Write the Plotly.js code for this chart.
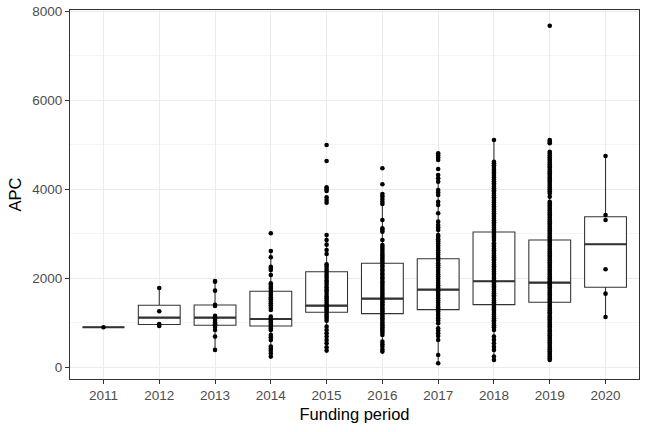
<!DOCTYPE html>
<html>
<head>
<meta charset="utf-8">
<script src="https://cdn.plot.ly/plotly-3.0.1.min.js"></script>
<style>html,body{margin:0;padding:0;background:#fff;}#chart{width:648px;height:432px;}</style>
</head>
<body>
<div id="chart"></div>
<script>
// Funding periods
var years = [2011, 2012, 2013, 2014, 2015, 2016, 2017, 2018, 2019, 2020];
var yearLabels = ["2011", "2012", "2013", "2014", "2015", "2016", "2017", "2018", "2019", "2020"];

// Box statistics (APC)
var q1Vals     = [900, 962, 944, 928, 1236, 1204, 1294, 1407, 1461, 1798];
var medianVals = [900, 1115, 1115, 1085, 1384, 1541, 1744, 1932, 1901, 2764];
var q3Vals     = [900, 1393, 1400, 1708, 2148, 2337, 2440, 3040, 2860, 3384];
var lowerWhisk = [900, 928, 389, 238, 373, 351, 90, 164, 164, 1130];
var upperWhisk = [900, 1782, 1939, 2613, 2973, 3894, 4171, 5107, 4845, 4748];

// Individual APC values per funding period
var pts2011 = [900];
var pts2012 = [1782, 1258, 973, 928];
var pts2013 = [1939, 1921, 1721, 1377, 1402, 1153, 1120, 1098, 1062, 1010, 968, 944, 905, 838, 688, 389];
var pts2014 = [3011, 2613, 2472, 2260, 2231, 2186, 2074, 1887, 1846, 1802, 1764, 1713, 1669, 1622, 1571, 1530, 1488, 1440, 1392, 1337, 1288, 1137, 1102, 1076, 1041, 1003, 962, 911, 868, 838, 726, 671, 613, 463, 421, 372, 309, 238];
var pts2015 = [4995, 4636, 4045, 4000, 3961, 3820, 3759, 3699, 2973, 2860, 2755, 2636, 2546, 2314, 2262, 2207, 2158, 2101, 2049, 2003, 1948, 1902, 1851, 1797, 1748, 1705, 1652, 1598, 1553, 1497, 1451, 1403, 1372, 1338, 1297, 1261, 1222, 1178, 1139, 1096, 1047, 912, 838, 764, 688, 613, 539, 449, 373];
var pts2016 = [4471, 4112, 3894, 3843, 3781, 3722, 3669, 3310, 3123, 3085, 3047, 2860, 2748, 2702, 2655, 2611, 2558, 2512, 2469, 2421, 2377, 2337, 2288, 2251, 2197, 2163, 2108, 2072, 2019, 1983, 1928, 1893, 1847, 1802, 1758, 1711, 1668, 1629, 1583, 1541, 1502, 1459, 1418, 1381, 1337, 1302, 1258, 1221, 1179, 1142, 1098, 1061, 1018, 979, 942, 898, 861, 818, 779, 726, 575, 518, 462, 398, 351];
var pts2017 = [4808, 4761, 4709, 4658, 4456, 4321, 4248, 4171, 3984, 3928, 3872, 3721, 3647, 3460, 3272, 3198, 3141, 3085, 2973, 2931, 2878, 2832, 2779, 2731, 2682, 2628, 2581, 2533, 2478, 2440, 2392, 2338, 2291, 2242, 2188, 2141, 2089, 2043, 1992, 1938, 1891, 1843, 1788, 1744, 1702, 1648, 1603, 1551, 1498, 1452, 1401, 1349, 1302, 1251, 1198, 1152, 1101, 1048, 989, 876, 818, 762, 701, 613, 276, 90];
var pts2018 = [5107, 4620, 4583, 4538, 4502, 4457, 4421, 4378, 4342, 4298, 4263, 4219, 4181, 4138, 4102, 4057, 4021, 3978, 3942, 3901, 3858, 3822, 3779, 3741, 3702, 3658, 3621, 3579, 3542, 3498, 3461, 3419, 3382, 3338, 3301, 3259, 3222, 3178, 3141, 3098, 3062, 3019, 2981, 2938, 2902, 2860, 2786, 2748, 2712, 2668, 2631, 2589, 2552, 2508, 2471, 2429, 2392, 2348, 2311, 2268, 2232, 2189, 2151, 2108, 2072, 2028, 1991, 1948, 1932, 1901, 1858, 1822, 1779, 1741, 1698, 1662, 1619, 1582, 1538, 1502, 1459, 1421, 1378, 1342, 1299, 1262, 1218, 1181, 1138, 1102, 1058, 1021, 978, 942, 899, 838, 688, 618, 541, 458, 389, 238, 164];
var pts2019 = [7676, 5107, 5071, 5033, 4845, 4802, 4758, 4721, 4679, 4642, 4598, 4561, 4519, 4482, 4438, 4401, 4359, 4322, 4278, 4241, 4199, 4162, 4118, 4081, 4039, 4002, 3958, 3910, 3833, 3721, 3682, 3638, 3601, 3559, 3522, 3478, 3441, 3399, 3362, 3318, 3281, 3239, 3202, 3158, 3121, 3079, 3042, 2998, 2961, 2919, 2882, 2838, 2801, 2759, 2722, 2678, 2641, 2599, 2562, 2518, 2481, 2439, 2402, 2358, 2321, 2279, 2242, 2198, 2161, 2119, 2082, 2038, 2001, 1959, 1922, 1901, 1878, 1841, 1799, 1762, 1718, 1681, 1639, 1602, 1558, 1521, 1479, 1442, 1398, 1361, 1319, 1282, 1238, 1201, 1159, 1122, 1078, 1041, 999, 962, 918, 881, 839, 802, 758, 721, 679, 642, 598, 561, 519, 482, 438, 401, 359, 322, 278, 241, 199, 164];
var pts2020 = [4748, 3422, 3310, 2202, 1654, 1130];

var allPts = [pts2011, pts2012, pts2013, pts2014, pts2015, pts2016, pts2017, pts2018, pts2019, pts2020];

var ptX = [], ptY = [];
allPts.forEach(function (arr, i) {
  arr.forEach(function (v) { ptX.push(years[i]); ptY.push(v); });
});

var boxHalf = 0.375;
var medX = [], medY = [];
years.forEach(function (yr, i) {
  medX.push(yr - boxHalf, yr + boxHalf, null);
  medY.push(medianVals[i], medianVals[i], null);
});

var dark = '#333333';
var traces = [
  {
    type: 'box',
    x: years,
    q1: q1Vals,
    median: medianVals,
    q3: q3Vals,
    lowerfence: lowerWhisk,
    upperfence: upperWhisk,
    width: 2 * boxHalf,
    whiskerwidth: 0,
    boxpoints: false,
    fillcolor: 'rgba(255,255,255,1)',
    line: { color: dark, width: 1.07 },
    hoverinfo: 'skip',
    showlegend: false
  },
  {
    type: 'scatter',
    mode: 'lines',
    x: medX,
    y: medY,
    line: { color: dark, width: 2.1 },
    hoverinfo: 'skip',
    showlegend: false
  },
  {
    type: 'scatter',
    mode: 'markers',
    x: ptX,
    y: ptY,
    marker: { color: '#000000', size: 4.6 },
    hoverinfo: 'skip',
    showlegend: false
  }
];

var font = 'Liberation Sans, Arial, Helvetica, sans-serif';
var layout = {
  width: 648,
  height: 432,
  margin: { l: 70, r: 9, t: 10, b: 53 },
  paper_bgcolor: '#ffffff',
  plot_bgcolor: '#ffffff',
  font: { family: font, color: '#000000' },
  showlegend: false,
  xaxis: {
    range: [2010.4, 2020.6],
    tickmode: 'array',
    tickvals: years,
    ticktext: yearLabels,
    ticks: 'outside',
    ticklen: 4,
    tickwidth: 1.07,
    tickcolor: dark,
    tickfont: { family: font, size: 13.5, color: '#4D4D4D' },
    showgrid: true,
    gridcolor: '#EBEBEB',
    gridwidth: 1.07,
    zeroline: false,
    showline: true,
    mirror: true,
    linecolor: dark,
    linewidth: 1.07,
    title: { text: 'Funding period', font: { family: font, size: 16.5, color: '#000000' }, standoff: 6 }
  },
  yaxis: {
    range: [-265, 8030],
    tickmode: 'array',
    tickvals: [0, 2000, 4000, 6000, 8000],
    ticktext: ['0', '2000', '4000', '6000', '8000'],
    ticks: 'outside',
    ticklen: 4,
    tickwidth: 1.07,
    tickcolor: dark,
    tickfont: { family: font, size: 13.5, color: '#4D4D4D' },
    showgrid: true,
    gridcolor: '#EBEBEB',
    gridwidth: 1.07,
    minor: { tickmode: 'array', tickvals: [1000, 3000, 5000, 7000], showgrid: true, gridcolor: '#EDEDED', gridwidth: 0.6, ticks: '' },
    zeroline: false,
    showline: true,
    mirror: true,
    linecolor: dark,
    linewidth: 1.07,
    title: { text: 'APC', font: { family: font, size: 16.5, color: '#000000' }, standoff: 6 }
  }
};

Plotly.newPlot('chart', traces, layout, { staticPlot: true, displayModeBar: false });
</script>
</body>
</html>
